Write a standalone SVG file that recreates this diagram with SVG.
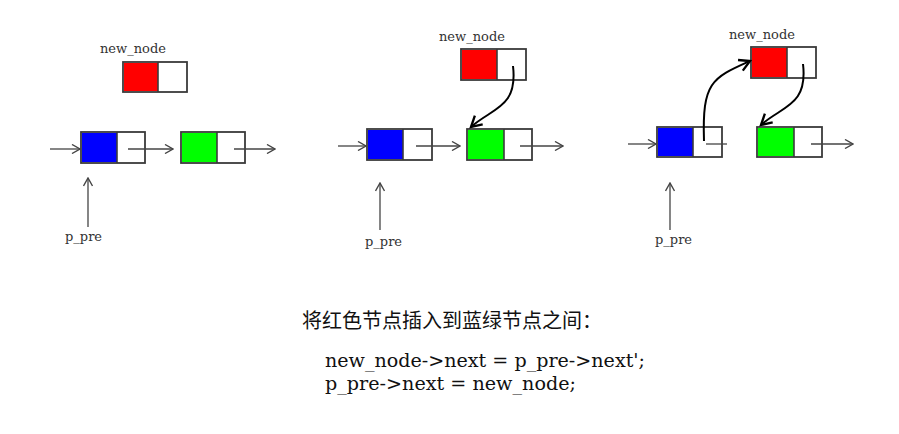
<svg xmlns="http://www.w3.org/2000/svg" width="899" height="434" viewBox="0 0 899 434">
<defs>
<marker id="ah" viewBox="0 0 10 10" refX="9" refY="5" markerWidth="10" markerHeight="10" markerUnits="userSpaceOnUse" orient="auto">
<path d="M1,0.5 L9,5 L1,9.5" fill="none" stroke="#444" stroke-width="1.4"/>
</marker>
<marker id="ahb" viewBox="0 0 12 12" refX="10" refY="6" markerWidth="14" markerHeight="14" markerUnits="userSpaceOnUse" orient="auto">
<path d="M1,1 L10,6 L1,11" fill="none" stroke="#000" stroke-width="2"/>
</marker>
</defs>
<style>
.box{fill:#fff;stroke:#3a3a3a;stroke-width:1.8}
.div{stroke:#3a3a3a;stroke-width:1.6}
.ln{stroke:#444;stroke-width:1.3;fill:none}
.cv{stroke:#000;stroke-width:2;fill:none}
.lbl{font-family:"DejaVu Serif","Liberation Serif",serif;font-size:13px;fill:#333}
.cn{font-family:"Noto Sans CJK SC","Noto Sans",sans-serif;font-size:20px;fill:#111}
.code{font-family:"DejaVu Serif","Liberation Serif",serif;font-size:18px;fill:#111}
</style>
<rect width="899" height="434" fill="#fff"/>

<!-- Panel 1 -->
<g id="p1-new">
<rect class="box" x="123" y="62" width="64" height="30"/>
<rect x="124" y="63" width="34" height="28" fill="#f00"/>
<line class="div" x1="158" y1="62" x2="158" y2="92"/>
<text class="lbl" x="100" y="53">new_node</text>
</g>
<g id="p1-blue">
<rect class="box" x="81" y="132" width="64" height="31"/>
<rect x="82" y="133" width="35" height="29" fill="#00f"/>
<line class="div" x1="117" y1="132" x2="117" y2="163"/>
</g>
<g id="p1-green">
<rect class="box" x="181" y="132" width="64" height="31"/>
<rect x="182" y="133" width="35" height="29" fill="#0f0"/>
<line class="div" x1="217" y1="132" x2="217" y2="163"/>
</g>
<g id="p1-ppre">
<text class="lbl" x="65" y="241">p_pre</text>
</g>

<!-- Panel 2 -->
<g id="p2-new">
<rect class="box" x="461" y="49" width="65" height="31"/>
<rect x="462" y="50" width="35" height="29" fill="#f00"/>
<line class="div" x1="497" y1="49" x2="497" y2="80"/>
<text class="lbl" x="439" y="41">new_node</text>
</g>
<g id="p2-blue">
<rect class="box" x="367" y="129" width="65" height="31"/>
<rect x="368" y="130" width="35" height="29" fill="#00f"/>
<line class="div" x1="403" y1="129" x2="403" y2="160"/>
</g>
<g id="p2-green">
<rect class="box" x="467" y="129" width="65" height="31"/>
<rect x="468" y="130" width="36" height="29" fill="#0f0"/>
<line class="div" x1="504" y1="129" x2="504" y2="160"/>
</g>
<g id="p2-ppre">
<text class="lbl" x="365" y="246">p_pre</text>
</g>

<!-- Panel 3 -->
<g id="p3-new">
<rect class="box" x="751" y="47" width="65" height="31"/>
<rect x="752" y="48" width="35" height="29" fill="#f00"/>
<line class="div" x1="787" y1="47" x2="787" y2="78"/>
<text class="lbl" x="729" y="39">new_node</text>
</g>
<g id="p3-blue">
<rect class="box" x="657" y="127" width="65" height="30"/>
<rect x="658" y="128" width="35" height="28" fill="#00f"/>
<line class="div" x1="693" y1="127" x2="693" y2="157"/>
</g>
<g id="p3-green">
<rect class="box" x="757" y="127" width="65" height="30"/>
<rect x="758" y="128" width="36" height="28" fill="#0f0"/>
<line class="div" x1="794" y1="127" x2="794" y2="157"/>
</g>
<g id="p3-ppre">
<text class="lbl" x="655" y="244">p_pre</text>
</g>

<g id="connectors">
<!-- panel 1 -->
<line class="ln" x1="50" y1="149" x2="80" y2="149" marker-end="url(#ah)"/>
<line class="ln" x1="128" y1="149" x2="173" y2="149" marker-end="url(#ah)"/>
<line class="ln" x1="234" y1="149" x2="275" y2="149" marker-end="url(#ah)"/>
<line class="ln" x1="88" y1="227" x2="88" y2="178" marker-end="url(#ah)"/>
<!-- panel 2 -->
<line class="ln" x1="338" y1="146" x2="366" y2="146" marker-end="url(#ah)"/>
<line class="ln" x1="416" y1="146" x2="460" y2="146" marker-end="url(#ah)"/>
<line class="ln" x1="520" y1="146" x2="563" y2="146" marker-end="url(#ah)"/>
<line class="ln" x1="380" y1="230" x2="380" y2="183" marker-end="url(#ah)"/>
<path class="cv" d="M513,66 C518,108 492,108 471,127" marker-end="url(#ahb)"/>
<!-- panel 3 -->
<line class="ln" x1="628" y1="144" x2="656" y2="144" marker-end="url(#ah)"/>
<line class="ln" x1="706" y1="144" x2="727" y2="144"/>
<line class="ln" x1="811" y1="144" x2="853" y2="144" marker-end="url(#ah)"/>
<line class="ln" x1="670" y1="230" x2="670" y2="183" marker-end="url(#ah)"/>
<path class="cv" d="M704,141 C702,82 712,78 750,61" marker-end="url(#ahb)"/>
<path class="cv" d="M803,64 C808,106 782,106 761,125" marker-end="url(#ahb)"/>
</g>

<text class="cn" x="302" y="328">将红色节点插入到蓝绿节点之间：</text>
<text class="code" x="325" y="367" textLength="320" lengthAdjust="spacingAndGlyphs">new_node-&gt;next = p_pre-&gt;next';</text>
<text class="code" x="325" y="390" textLength="251" lengthAdjust="spacingAndGlyphs">p_pre-&gt;next = new_node;</text>
</svg>
